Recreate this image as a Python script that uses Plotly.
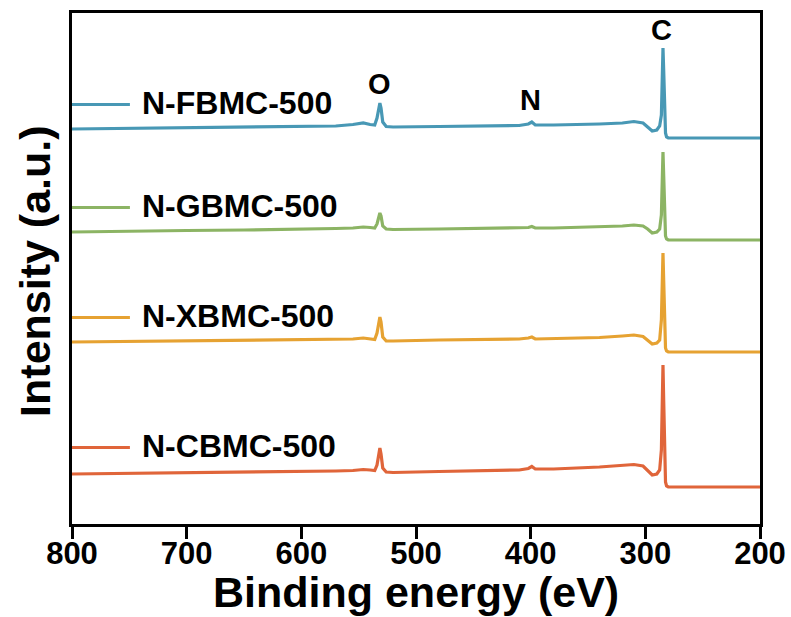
import plotly.graph_objects as go

# Binding energy grid (eV)
energy = [800, 750, 700, 650, 600, 570, 555, 546, 540, 536, 534, 532.5, 531.5, 530.5, 529, 526, 520,
          480, 440, 410, 402, 399, 396, 380, 340, 320, 310, 302, 298, 294, 290, 287.5, 286, 285.2,
          284.6, 284.0, 283.2, 282.4, 281.5, 280, 260, 230, 200]

# Stacked intensities (a.u.)
fbmc = [395, 395.5, 396, 396.5, 397, 398, 399.5, 401, 399.5, 399, 406, 418, 421, 416, 402, 397.5, 397,
        397.5, 398, 398.5, 400, 402, 399, 399, 400, 401, 402.5, 401, 397, 393, 394, 398, 409, 444,
        476, 454, 409, 391, 387, 386, 386, 386, 386]
gbmc = [292, 293, 293.5, 294, 294.5, 295.5, 296, 297, 296.5, 296, 300, 309, 311, 308, 298, 295, 294.5,
        295, 295.5, 296, 296.5, 297.5, 296, 296, 297, 298, 299, 298, 295, 291, 292, 295, 309, 339,
        372, 349, 309, 288, 285, 284, 284, 284, 284]
xbmc = [182, 182.5, 183, 183.5, 184, 184.5, 185, 186, 185, 184.5, 191, 204, 207, 202, 187, 183, 183,
        184, 184.5, 185, 186, 187, 185, 185.5, 186.5, 188, 189, 187.5, 184, 180, 181, 184, 204, 234,
        271, 244, 199, 176, 173, 172, 172, 172, 172]
cbmc = [50, 50.5, 51, 51.5, 52, 53, 53.5, 54.5, 54, 53.5, 59, 72, 76, 70, 56, 52, 51.5,
        52.5, 53.5, 54, 55.5, 57.5, 55, 55, 57, 58.5, 59.5, 58, 54, 49, 50, 54, 74, 114,
        159, 124, 69, 42, 38, 37, 37, 37, 37]

series_names = ["N-FBMC-500", "N-GBMC-500", "N-XBMC-500", "N-CBMC-500"]
series_data = [fbmc, gbmc, xbmc, cbmc]
colors = ["#4898B5", "#8CB464", "#E6A232", "#E0653A"]

# label positions (legend key) in data units
label_levels = [421, 318, 208, 78]

peak_labels = ["O", "N", "C"]
peak_energy = [532, 400, 285.5]
peak_level = [440, 424, 494]

x_ticks = [800, 700, 600, 500, 400, 300, 200]

FONT = "Liberation Sans, Arial, sans-serif"

fig = go.Figure()
for name, ys, c in zip(series_names, series_data, colors):
    fig.add_trace(go.Scatter(x=energy, y=ys, mode="lines", name=name,
                             line=dict(color=c, width=3.2), showlegend=False))

shapes = []
annotations = []
for name, lvl, c in zip(series_names, label_levels, colors):
    shapes.append(dict(type="line", xref="x", yref="y", x0=800, x1=749.5, y0=lvl - 1.5, y1=lvl - 1.5,
                       line=dict(color=c, width=3.2)))
    annotations.append(dict(x=741, y=lvl, xref="x", yref="y", text="<b>%s</b>" % name,
                            showarrow=False, xanchor="left", yanchor="middle",
                            font=dict(family=FONT, size=32, color="black")))
for t, e, l in zip(peak_labels, peak_energy, peak_level):
    annotations.append(dict(x=e, y=l, xref="x", yref="y", text="<b>%s</b>" % t, showarrow=False,
                            xanchor="center", yanchor="middle",
                            font=dict(family=FONT, size=29, color="black")))

annotations.append(dict(x=0.5, y=-0.133, xref="paper", yref="paper", text="<b>Binding energy (eV)</b>",
                        showarrow=False, xanchor="center", yanchor="middle",
                        font=dict(family=FONT, size=43, color="black")))
annotations.append(dict(x=-0.054, y=0.495, xref="paper", yref="paper", text="<b>Intensity (a.u.)</b>",
                        showarrow=False, xanchor="center", yanchor="middle", textangle=-90,
                        font=dict(family=FONT, size=43, color="black")))

fig.update_layout(
    width=791, height=617,
    margin=dict(l=72, r=31, t=13, b=93, autoexpand=False),
    paper_bgcolor="white", plot_bgcolor="white",
    shapes=shapes, annotations=annotations,
    xaxis=dict(range=[800, 200], tickvals=x_ticks, ticktext=["<b>%d</b>" % v for v in x_ticks],
               ticks="outside", ticklen=12, tickwidth=3, tickcolor="black",
               ticklabelstandoff=-12, automargin=False,
               showline=True, linewidth=3, linecolor="black", mirror=True,
               showgrid=False, zeroline=False,
               tickfont=dict(family=FONT, size=31, color="black")),
    yaxis=dict(range=[0, 511], showticklabels=False, ticks="", automargin=False,
               showline=True, linewidth=3, linecolor="black", mirror=True,
               showgrid=False, zeroline=False),
)

fig.write_html("out.html", config={"displayModeBar": False},
               post_script="document.body.style.margin='0px';document.body.style.overflow='hidden';")
